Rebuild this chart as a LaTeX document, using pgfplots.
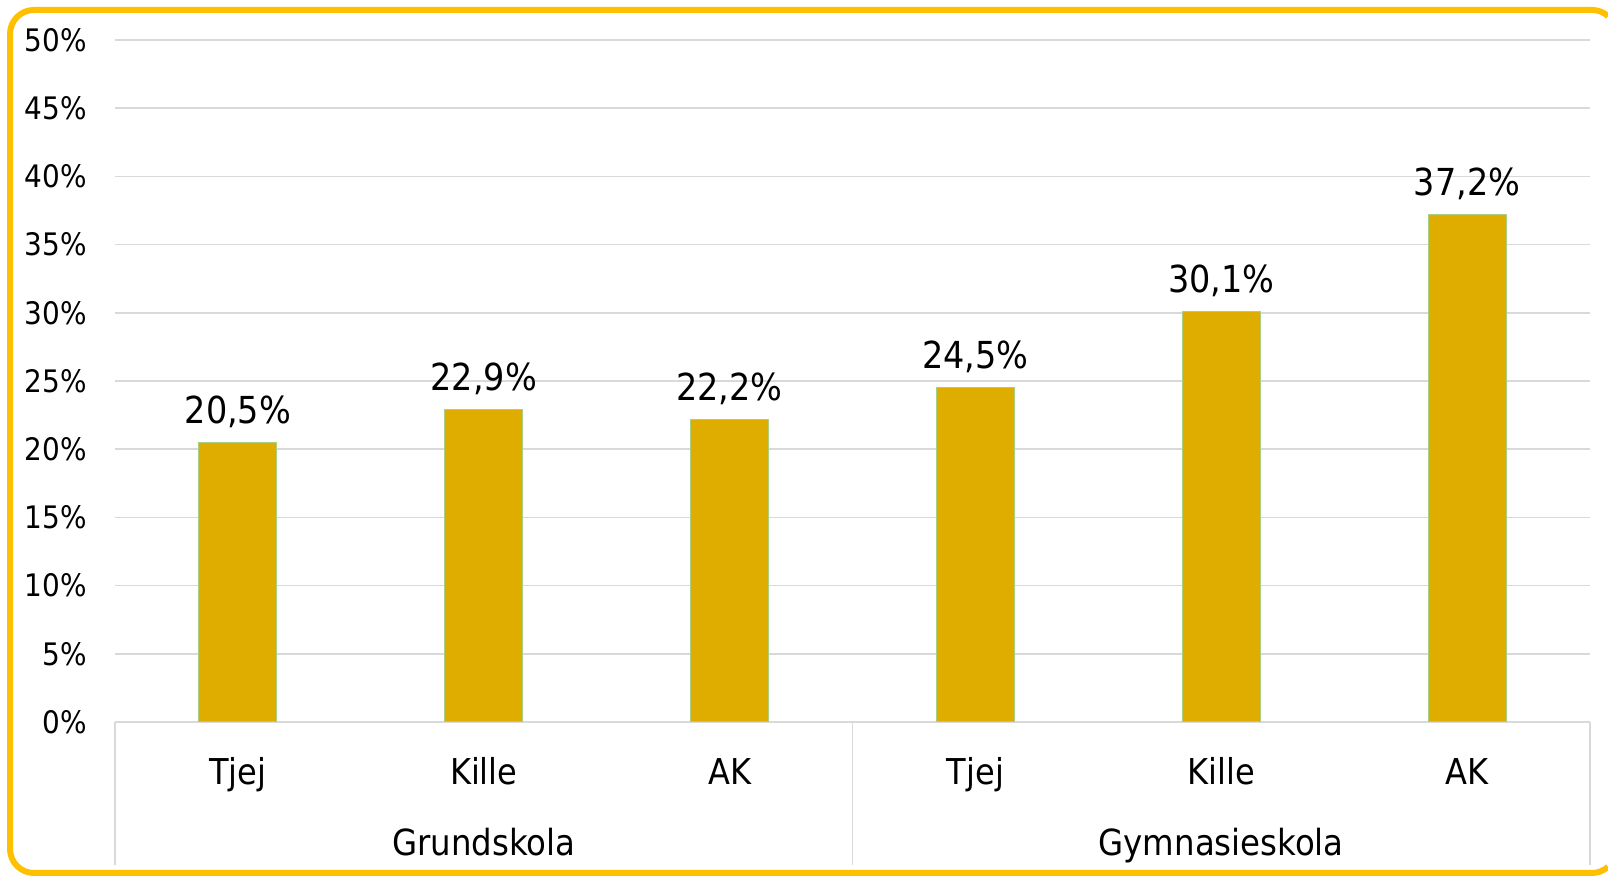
\documentclass[border=0pt]{standalone}
\usepackage{pgfplots}
\pgfplotsset{compat=1.18}
\usepackage{fontspec}
\setmainfont{DejaVu Sans Condensed}
\definecolor{barfill}{HTML}{DFAC00}
\definecolor{baredge}{HTML}{A9CF7F}
\definecolor{gridc}{HTML}{D9D9D9}
\definecolor{framec}{HTML}{FFC000}
\begin{document}
\begin{tikzpicture}
\useasboundingbox (0,0) rectangle (804pt,438pt);
\draw[framec, line width=3pt] (804pt,4.556pt) arc[start angle=311.81, end angle=270, radius=12pt] -- (17pt,1.5pt) arc[start angle=270, end angle=180, radius=12pt] -- (5pt,421pt) arc[start angle=180, end angle=90, radius=12pt] -- (796pt,433pt) arc[start angle=90, end angle=48.19, radius=12pt];
\begin{axis}[
  at={(57.5pt,77pt)}, anchor=south west,
  scale only axis, width=737.5pt, height=341pt,
  xmin=-0.5, xmax=5.5, ymin=0, ymax=50,
  ybar, bar width=39pt,
  clip=false,
  /pgf/number format/assume math mode=true,
  ytick={0,5,...,50},
  xtick={0,...,5}, xticklabels={Tjej,Kille,AK,Tjej,Kille,AK},
  axis line style={draw=none},
  tick style={draw=none},
  ymajorgrids, grid style={gridc, line width=0.75pt},
  yticklabel={\pgfmathprintnumber{\tick}\%},
  yticklabel style={font=\fontsize{15.5}{18}\selectfont, anchor=east, inner sep=0pt, xshift=-14pt},
  xticklabel style={font=\fontsize{17.8}{20}\selectfont, anchor=base, inner sep=0pt, yshift=-26.8pt},
  nodes near coords={\pgfmathprintnumber[fixed,fixed zerofill,precision=1,use comma]{\pgfplotspointmeta}\%},
  every node near coord/.append style={font=\fontsize{18.6}{22}\selectfont, anchor=base, inner sep=0pt, yshift=9.5pt, black},
]
\addplot[fill=barfill, draw=baredge, line width=0.5pt] coordinates {(0,20.5) (1,22.9) (2,22.2) (3,24.5) (4,30.1) (5,37.2)};
\draw[gridc, line width=0.75pt] (axis cs:-0.5,0) -- ++(0pt,-71.5pt);
\draw[gridc, line width=0.75pt] (axis cs:2.5,0) -- ++(0pt,-71.5pt);
\draw[gridc, line width=0.75pt] (axis cs:5.5,0) -- ++(0pt,-71.5pt);
\node[font=\fontsize{18}{20}\selectfont, anchor=base, inner sep=0pt] at ([yshift=-66.8pt]axis cs:1,0) {Grundskola};
\node[font=\fontsize{18}{20}\selectfont, anchor=base, inner sep=0pt] at ([yshift=-66.8pt]axis cs:4,0) {Gymnasieskola};
\end{axis}
\end{tikzpicture}
\end{document}
